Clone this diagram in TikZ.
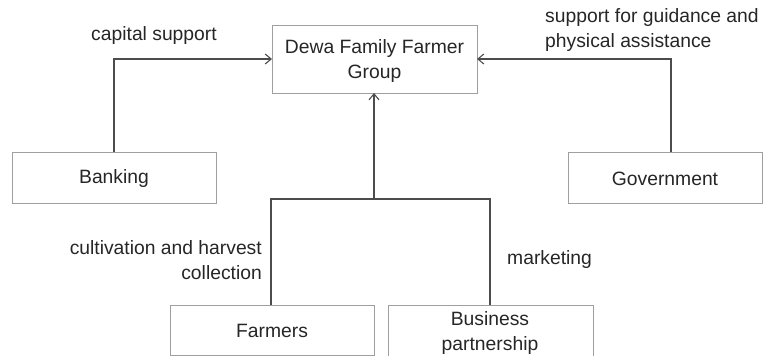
\documentclass[tikz,border=0pt]{standalone}
\usepackage{fontspec}
\setmainfont{Liberation Sans}
\usetikzlibrary{arrows.meta}
\begin{document}
\begin{tikzpicture}[x=1pt,y=-1pt,
  box/.style={draw=gray!75,line width=0.9pt,fill=white,inner sep=0pt},
  conn/.style={draw=black!70,line width=1.3pt},
  arr/.style={conn,-{Straight Barb[length=6pt,width=10pt,line width=1.1pt]}},
  lbl/.style={inner sep=0pt,text=black!85,font=\fontsize{19.3}{25}\selectfont}]
\useasboundingbox (0,0) rectangle (763,356);
% boxes
\draw[box] (272,25) rectangle (477,93);
\node[lbl,align=center] (dewa) at (374.5,61) {Dewa Family Farmer\\Group};
\coordinate (dewaL) at (272,59);
\coordinate (dewaR) at (477,59);
\coordinate (dewaB) at (374,93);

\draw[box] (12,152) rectangle (216,203);
\node[lbl] (bank) at (114,179) {Banking};
\coordinate (bankT) at (114,152);

\draw[box] (568,152) rectangle (762,203);
\node[lbl] (gov) at (665,179) {Government};
\coordinate (govT) at (671,152);

\draw[box] (170,305) rectangle (374,355);
\node[lbl] (farm) at (272,331) {Farmers};
\coordinate (farmT) at (271,305);

\draw[box] (388,305) rectangle (593,362);
\node[lbl,align=center] (bus) at (490,333) {Business\\partnership};
\coordinate (busT) at (490,305);

% junction coordinates
\coordinate (jL) at (271,199);
\coordinate (jR) at (490,199);
\coordinate (jM) at (374,199);

% connectors
\draw[arr] (bankT) |- (dewaL);
\draw[arr] (govT) |- (dewaR);
\draw[conn] (farmT) -- (jL) -- (jR) -- (busT);
\draw[arr] (jM) -- (dewaB);

% labels
\node[lbl] (l1) at (154,36) {capital support};
\node[lbl,align=left,anchor=west] (l2) at (545,30) {support for guidance and\\physical assistance};
\node[lbl,align=right,anchor=east] (l3) at (262,260) {cultivation and harvest\\collection};
\node[lbl,anchor=west] (l4) at (507,260) {marketing};
\end{tikzpicture}
\end{document}
